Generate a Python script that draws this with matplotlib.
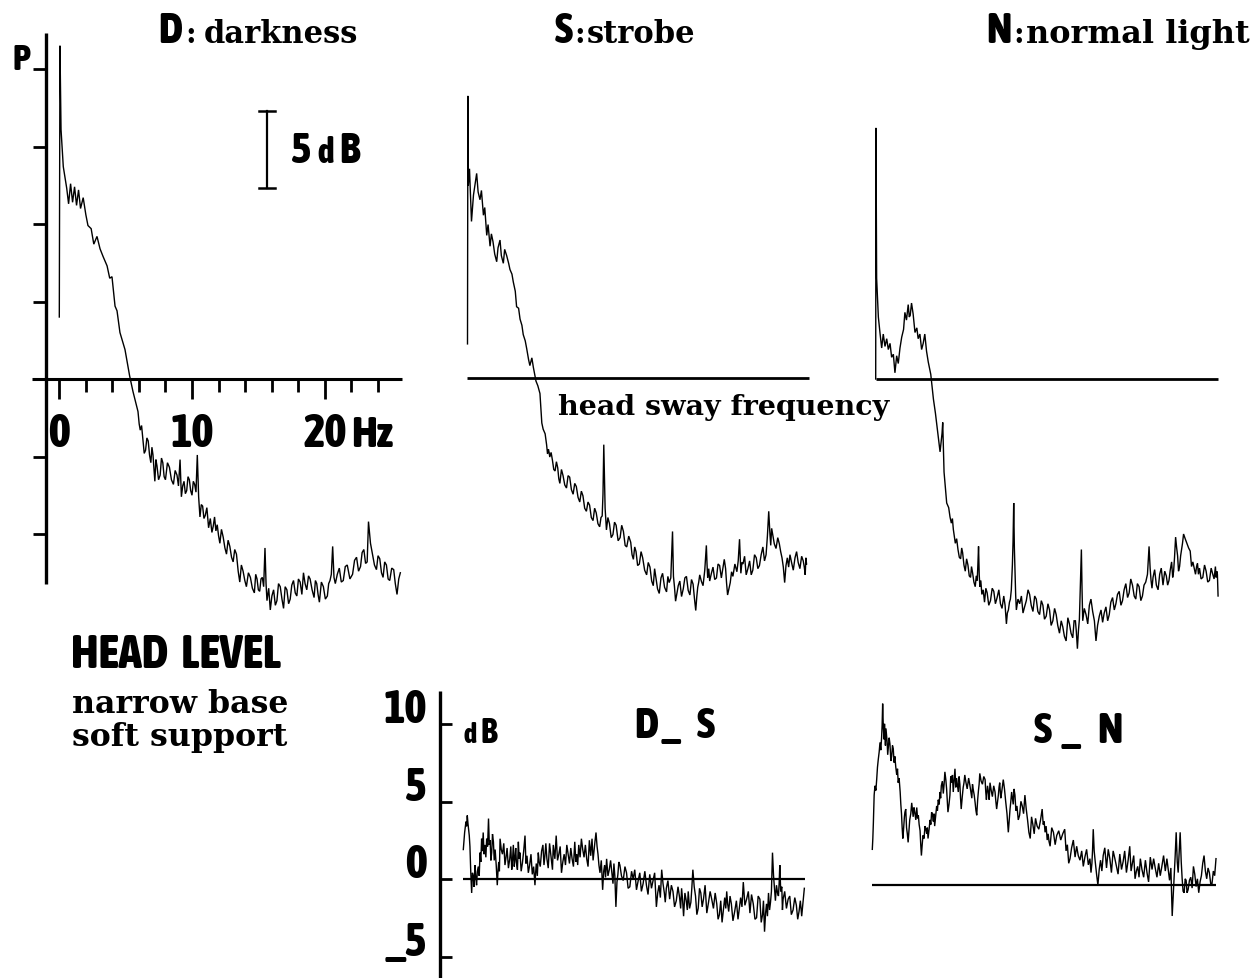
import os
import matplotlib
matplotlib.use('Agg')
import matplotlib.pyplot as plt
import matplotlib.font_manager as fm
from matplotlib.font_manager import FontProperties

# ---------------- data (frequency in Hz, power in dB) ----------------
D_trace = [(0.0, 4.0), (0.05, 21.5), (0.13, 16.1), (0.3, 13.7), (0.56, 12.3), (0.7, 11.3), (0.85, 12.6),
           (1.0, 11.4), (1.15, 12.4), (1.3, 11.2), (1.45, 12.2), (1.6, 11.0), (1.8, 11.7), (2.0, 10.6),
           (2.16, 9.9), (2.4, 9.7), (2.6, 8.7), (2.84, 9.2), (3.07, 8.4), (3.3, 7.9), (3.6, 7.3), (3.8, 6.5),
           (3.97, 6.6), (4.2, 4.7), (4.35, 4.4), (4.57, 3.0), (4.95, 1.9), (5.3, 0.2), (5.55, -0.8),
           (5.93, -2.1), (6.02, -2.9), (6.1, -3.3), (6.2, -3.0), (6.3, -3.9), (6.4, -4.8), (6.5, -4.6),
           (6.6, -3.8), (6.7, -4.0), (6.8, -4.9), (6.9, -5.4), (6.98, -4.4), (7.06, -4.9), (7.13, -5.8),
           (7.2, -6.6), (7.28, -5.2), (7.36, -5.6), (7.48, -6.5), (7.6, -6.2), (7.7, -5.1), (7.8, -5.4),
           (7.9, -6.3), (8.0, -6.5), (8.15, -5.4), (8.3, -5.7), (8.45, -6.5), (8.6, -6.8), (8.73, -5.9),
           (8.87, -6.2), (8.98, -6.9), (9.1, -5.2), (9.15, -6.5), (9.2, -7.6), (9.3, -6.9), (9.4, -6.6),
           (9.5, -7.4), (9.6, -7.2), (9.7, -6.3), (9.8, -6.5), (9.9, -7.2), (10.0, -7.5), (10.1, -6.6),
           (10.2, -6.8), (10.3, -7.3), (10.4, -4.9), (10.5, -7.6), (10.6, -8.9), (10.7, -8.1), (10.8, -8.2),
           (10.9, -9.0), (11.0, -8.8), (11.12, -8.3), (11.25, -9.6), (11.38, -9.0), (11.5, -9.9),
           (11.6, -9.5), (11.7, -8.9), (11.8, -9.8), (11.9, -9.4), (12.0, -10.1), (12.1, -10.6),
           (12.22, -9.7), (12.35, -10.2), (12.48, -10.9), (12.6, -11.3), (12.72, -10.4), (12.85, -10.8),
           (12.98, -11.5), (13.1, -11.8), (13.22, -11.0), (13.35, -11.3), (13.48, -12.4), (13.6, -13.1),
           (13.72, -12.0), (13.85, -12.4), (13.98, -13.0), (14.1, -13.4), (14.25, -12.5), (14.4, -12.8),
           (14.55, -13.5), (14.7, -13.8), (14.8, -12.6), (14.9, -12.9), (15.0, -13.6), (15.1, -13.7),
           (15.2, -12.9), (15.3, -12.8), (15.4, -13.4), (15.5, -10.9), (15.58, -13.2), (15.65, -14.3),
           (15.78, -13.5), (15.9, -14.9), (16.02, -14.0), (16.15, -13.6), (16.28, -14.6), (16.4, -14.3),
           (16.52, -13.2), (16.65, -13.4), (16.78, -14.2), (16.9, -14.8), (17.02, -13.4), (17.15, -13.6),
           (17.28, -14.5), (17.4, -14.2), (17.52, -13.3), (17.65, -13.0), (17.78, -13.8), (17.9, -14.0),
           (18.02, -12.9), (18.15, -13.1), (18.28, -13.9), (18.4, -12.5), (18.52, -13.2), (18.65, -13.6),
           (18.78, -12.7), (18.9, -12.9), (19.05, -13.6), (19.2, -14.1), (19.3, -13.0), (19.4, -13.2),
           (19.5, -13.9), (19.6, -14.4), (19.75, -13.1), (19.9, -13.4), (20.05, -14.2), (20.2, -14.0),
           (20.3, -13.2), (20.4, -13.0), (20.5, -12.6), (20.6, -10.8), (20.7, -12.8), (20.8, -13.2),
           (20.95, -12.6), (21.1, -12.2), (21.25, -13.1), (21.4, -13.0), (21.55, -12.1), (21.7, -12.0),
           (21.9, -12.9), (22.1, -12.6), (22.25, -11.7), (22.4, -11.5), (22.55, -12.4), (22.7, -12.1),
           (22.82, -11.2), (22.95, -11.0), (23.08, -11.9), (23.2, -11.8), (23.25, -10.5), (23.3, -9.2),
           (23.45, -10.6), (23.6, -11.3), (23.75, -12.0), (23.9, -12.3), (24.02, -11.4), (24.15, -11.6),
           (24.28, -12.5), (24.4, -12.8), (24.52, -11.8), (24.65, -12.0), (24.78, -12.9), (24.9, -13.0),
           (25.05, -12.2), (25.2, -12.3), (25.32, -13.2), (25.45, -13.9), (25.58, -12.9), (25.7, -12.5)]

S_trace = [(0.0, 2.2), (0.03, 18.2), (0.06, 12.4), (0.15, 13.5), (0.3, 10.1), (0.45, 11.8), (0.69, 13.2),
           (0.8, 12.0), (0.94, 11.5), (1.05, 12.1), (1.2, 10.5), (1.3, 11.0), (1.45, 9.2), (1.55, 9.9),
           (1.7, 8.5), (1.8, 9.3), (1.92, 8.8), (2.05, 8.0), (2.2, 7.5), (2.3, 8.4), (2.45, 8.9), (2.55, 7.9),
           (2.7, 7.4), (2.8, 8.3), (2.95, 7.9), (3.1, 7.4), (3.2, 7.0), (3.35, 6.7), (3.45, 6.2), (3.6, 5.6),
           (3.7, 4.6), (3.85, 4.5), (3.96, 3.8), (4.1, 3.4), (4.2, 2.8), (4.35, 2.4), (4.46, 1.9), (4.6, 1.2),
           (4.7, 0.8), (4.85, 1.3), (4.96, 0.7), (5.16, -0.2), (5.3, -0.5), (5.46, -1.0), (5.6, -2.9),
           (5.7, -3.3), (5.85, -3.6), (5.96, -4.3), (6.03, -4.9), (6.1, -4.6), (6.15, -4.8), (6.2, -5.1),
           (6.3, -4.8), (6.4, -5.3), (6.5, -5.9), (6.6, -6.0), (6.7, -5.4), (6.8, -5.8), (6.88, -6.5),
           (6.96, -6.8), (7.08, -5.9), (7.2, -6.3), (7.33, -6.9), (7.46, -7.1), (7.58, -6.3), (7.7, -6.4),
           (7.83, -7.2), (7.96, -7.5), (8.08, -6.8), (8.2, -7.0), (8.33, -7.7), (8.46, -8.0), (8.58, -7.3),
           (8.7, -7.6), (8.83, -8.4), (8.96, -8.6), (9.08, -8.0), (9.2, -8.2), (9.33, -9.0), (9.46, -9.2),
           (9.58, -8.4), (9.7, -8.7), (9.83, -9.4), (9.96, -9.6), (10.06, -9.0), (10.15, -8.9),
           (10.21, -7.5), (10.27, -4.3), (10.37, -8.4), (10.47, -9.8), (10.58, -9.0), (10.7, -9.4),
           (10.83, -10.3), (10.96, -10.1), (11.08, -9.3), (11.2, -9.5), (11.35, -10.5), (11.5, -10.3),
           (11.62, -9.5), (11.75, -9.9), (11.88, -10.8), (12.0, -10.9), (12.15, -10.2), (12.3, -10.6),
           (12.4, -11.4), (12.5, -11.7), (12.6, -10.9), (12.7, -11.2), (12.82, -12.1), (12.95, -12.0),
           (13.08, -11.2), (13.2, -11.6), (13.35, -12.4), (13.5, -12.7), (13.62, -11.9), (13.75, -12.2),
           (13.88, -13.1), (14.0, -13.4), (14.1, -12.3), (14.2, -12.9), (14.32, -13.6), (14.45, -13.9),
           (14.58, -12.9), (14.7, -12.6), (14.85, -13.5), (15.0, -13.8), (15.1, -12.8), (15.2, -13.2),
           (15.32, -12.9), (15.45, -9.9), (15.52, -12.8), (15.6, -13.5), (15.68, -14.4), (15.76, -14.0),
           (15.88, -13.4), (16.0, -13.1), (16.13, -14.1), (16.26, -13.6), (16.38, -12.9), (16.5, -12.8),
           (16.63, -13.7), (16.76, -14.0), (16.88, -13.0), (17.0, -13.3), (17.1, -14.2), (17.2, -15.0),
           (17.28, -14.1), (17.35, -13.5), (17.42, -13.2), (17.5, -12.7), (17.62, -13.1), (17.75, -13.4),
           (17.88, -12.4), (18.0, -10.8), (18.05, -12.0), (18.1, -12.9), (18.18, -12.3), (18.25, -13.1),
           (18.38, -12.6), (18.5, -12.2), (18.63, -13.0), (18.76, -12.9), (18.88, -12.0), (19.0, -12.1),
           (19.13, -12.9), (19.26, -12.2), (19.35, -11.7), (19.45, -12.3), (19.52, -13.2), (19.6, -14.0),
           (19.7, -13.6), (19.8, -13.2), (19.9, -12.5), (20.0, -12.8), (20.15, -12.0), (20.3, -12.5),
           (20.4, -11.8), (20.5, -10.4), (20.55, -11.6), (20.6, -12.6), (20.68, -11.9), (20.76, -12.0),
           (20.88, -11.5), (21.0, -12.7), (21.13, -12.3), (21.26, -11.8), (21.38, -12.7), (21.5, -12.4),
           (21.63, -11.4), (21.76, -11.6), (21.88, -12.3), (22.0, -12.1), (22.13, -11.4), (22.26, -10.9),
           (22.38, -11.8), (22.5, -11.4), (22.6, -10.2), (22.7, -8.6), (22.78, -9.9), (22.85, -10.8),
           (22.92, -9.7), (23.0, -10.1), (23.12, -10.7), (23.25, -11.0), (23.38, -10.3), (23.5, -10.7),
           (23.6, -11.2), (23.7, -11.6), (23.8, -12.2), (23.9, -13.2), (24.0, -12.1), (24.1, -11.6),
           (24.2, -12.2), (24.3, -11.4), (24.42, -11.9), (24.55, -12.4), (24.68, -11.6), (24.8, -11.2),
           (24.92, -11.9), (25.05, -12.3), (25.18, -11.5), (25.3, -11.8), (25.38, -12.2), (25.45, -12.7),
           (25.5, -11.6), (25.55, -12.0)]

N_trace = [(0.0, 0.0), (0.02, 16.2), (0.07, 6.5), (0.2, 4.0), (0.32, 3.0), (0.45, 2.0), (0.57, 2.9),
           (0.7, 2.1), (0.83, 2.6), (0.95, 1.9), (1.08, 2.3), (1.2, 1.4), (1.33, 1.6), (1.45, 0.4),
           (1.58, 1.5), (1.7, 1.0), (1.83, 2.0), (1.96, 2.7), (2.1, 3.2), (2.2, 4.3), (2.32, 3.8), (2.45, 4.8),
           (2.53, 4.0), (2.6, 4.1), (2.7, 4.9), (2.82, 4.2), (2.96, 3.0), (3.1, 3.3), (3.2, 2.6), (3.33, 2.9),
           (3.46, 1.9), (3.58, 2.3), (3.7, 2.9), (3.83, 1.8), (3.96, 1.1), (4.15, 0.3), (4.35, -1.3),
           (4.5, -2.2), (4.7, -3.6), (4.85, -4.7), (5.0, -3.5), (5.05, -2.8), (5.15, -6.0), (5.35, -8.0),
           (5.5, -8.3), (5.6, -8.9), (5.7, -9.3), (5.78, -9.0), (5.85, -9.7), (5.92, -10.1), (6.0, -10.6),
           (6.1, -10.3), (6.2, -11.0), (6.3, -11.5), (6.4, -11.6), (6.48, -10.9), (6.55, -11.2),
           (6.65, -12.0), (6.75, -12.4), (6.85, -11.6), (6.95, -12.0), (7.05, -12.7), (7.15, -12.8),
           (7.22, -12.1), (7.3, -12.5), (7.4, -13.1), (7.5, -13.4), (7.58, -12.7), (7.65, -13.0),
           (7.7, -12.0), (7.75, -10.8), (7.8, -12.6), (7.85, -13.4), (7.92, -13.0), (8.0, -13.9),
           (8.1, -13.6), (8.2, -14.4), (8.3, -13.5), (8.4, -13.8), (8.52, -14.6), (8.65, -14.3),
           (8.78, -13.5), (8.9, -13.7), (9.02, -14.5), (9.15, -14.1), (9.28, -13.6), (9.4, -14.5),
           (9.52, -14.8), (9.65, -14.0), (9.75, -14.6), (9.85, -15.8), (9.92, -15.1), (10.0, -14.9),
           (10.08, -14.4), (10.15, -14.2), (10.22, -13.6), (10.3, -12.0), (10.35, -10.5), (10.4, -8.0),
           (10.45, -10.9), (10.5, -12.5), (10.55, -14.0), (10.6, -14.9), (10.72, -14.2), (10.85, -14.5),
           (10.98, -14.0), (11.1, -15.1), (11.22, -14.7), (11.35, -14.3), (11.48, -13.6), (11.6, -13.9),
           (11.72, -14.6), (11.85, -15.0), (11.98, -14.0), (12.1, -14.2), (12.22, -15.0), (12.35, -15.2),
           (12.48, -14.3), (12.6, -14.6), (12.72, -15.5), (12.85, -15.3), (12.98, -14.5), (13.1, -14.9),
           (13.22, -15.9), (13.35, -15.6), (13.48, -14.8), (13.6, -15.2), (13.72, -15.9), (13.85, -16.4),
           (13.98, -15.6), (14.1, -16.0), (14.22, -16.6), (14.35, -16.9), (14.48, -15.4), (14.6, -15.8),
           (14.72, -16.4), (14.85, -16.7), (14.95, -15.6), (15.05, -15.6), (15.12, -16.3), (15.2, -17.4),
           (15.28, -16.2), (15.35, -15.5), (15.42, -13.5), (15.5, -11.0), (15.55, -13.6), (15.6, -15.6),
           (15.72, -14.8), (15.85, -15.2), (15.98, -15.8), (16.1, -14.6), (16.22, -14.2), (16.35, -15.0),
           (16.48, -15.6), (16.6, -16.9), (16.72, -15.9), (16.85, -15.3), (16.98, -14.9), (17.1, -15.7),
           (17.22, -15.1), (17.35, -14.7), (17.48, -15.6), (17.6, -15.2), (17.72, -14.4), (17.85, -14.1),
           (17.98, -14.9), (18.1, -14.5), (18.22, -13.9), (18.35, -13.7), (18.48, -14.6), (18.6, -14.3),
           (18.72, -13.6), (18.85, -13.2), (18.98, -14.1), (19.1, -13.8), (19.22, -12.9), (19.35, -13.3),
           (19.48, -14.0), (19.6, -14.2), (19.72, -13.2), (19.85, -13.4), (19.98, -14.3), (20.1, -14.0),
           (20.22, -13.3), (20.35, -13.1), (20.48, -12.6), (20.6, -10.8), (20.68, -12.2), (20.75, -13.0),
           (20.82, -13.5), (20.9, -12.8), (21.02, -12.3), (21.15, -13.3), (21.28, -13.6), (21.4, -12.6),
           (21.52, -12.2), (21.65, -13.3), (21.78, -12.4), (21.9, -12.7), (22.0, -13.3), (22.1, -13.0),
           (22.2, -12.3), (22.3, -11.8), (22.38, -12.8), (22.45, -12.4), (22.52, -11.5), (22.6, -10.2),
           (22.68, -10.9), (22.75, -11.4), (22.82, -12.4), (22.9, -12.1), (22.98, -11.4), (23.05, -11.0),
           (23.12, -10.6), (23.2, -10.0), (23.32, -10.3), (23.45, -10.6), (23.58, -10.9), (23.7, -11.1),
           (23.8, -12.1), (23.9, -11.8), (24.0, -12.2), (24.1, -12.6), (24.18, -12.1), (24.25, -11.9),
           (24.32, -12.6), (24.4, -12.2), (24.52, -12.9), (24.65, -12.8), (24.78, -12.0), (24.9, -12.4),
           (25.02, -13.1), (25.15, -13.0), (25.28, -12.2), (25.4, -12.6), (25.5, -12.9), (25.6, -12.1),
           (25.65, -12.8), (25.7, -12.4), (25.75, -12.6), (25.8, -14.0)]

DS_trace = [(0.0, 1.9), (0.1, 3.0), (0.2, 3.7), (0.25, 3.4), (0.3, 4.1), (0.35, 3.6), (0.4, 3.2), (0.45, 2.8),
            (0.5, 2.1), (0.56, 0.5), (0.63, -0.9), (0.69, 0.4), (0.75, 0.2), (0.81, -0.5), (0.88, 0.9),
            (0.94, 0.1), (1.0, -0.4), (1.06, 0.5), (1.13, 0.8), (1.2, 0.2), (1.26, 1.7), (1.32, 1.1),
            (1.38, 2.6), (1.44, 1.8), (1.5, 3.0), (1.56, 1.6), (1.63, 2.2), (1.7, 1.4), (1.76, 2.6),
            (1.83, 2.1), (1.9, 3.9), (1.96, 2.2), (2.02, 2.5), (2.08, 1.2), (2.14, 1.7), (2.2, 2.9),
            (2.27, 2.4), (2.33, 1.2), (2.4, 1.9), (2.48, 0.9), (2.56, -0.4), (2.62, 0.6), (2.67, 1.1),
            (2.72, 0.5), (2.77, 2.6), (2.86, 1.9), (2.95, 1.6), (3.05, 2.3), (3.14, 0.9), (3.22, 1.4),
            (3.3, 2.0), (3.4, 0.7), (3.5, 1.3), (3.58, 2.1), (3.65, 0.6), (3.71, 1.2), (3.77, 2.2),
            (3.84, 0.8), (3.9, 1.4), (3.95, 2.0), (4.0, 1.1), (4.08, 0.6), (4.15, 2.4), (4.21, 1.3),
            (4.27, 1.7), (4.36, 0.5), (4.45, 1.0), (4.55, 1.8), (4.65, 2.8), (4.72, 1.0), (4.8, 1.5),
            (4.9, 0.4), (5.0, 0.9), (5.1, 1.6), (5.2, 0.3), (5.3, 0.8), (5.4, -0.4), (5.45, 0.4), (5.5, 1.0),
            (5.58, 0.2), (5.65, 1.7), (5.72, 1.1), (5.8, 0.8), (5.9, 1.8), (6.0, 2.2), (6.08, 0.9),
            (6.15, 1.5), (6.22, 2.3), (6.3, 1.3), (6.4, 0.7), (6.5, 2.3), (6.58, 1.7), (6.65, 1.2),
            (6.72, 0.6), (6.78, 2.2), (6.9, 1.3), (7.0, 2.8), (7.1, 1.2), (7.2, 1.6), (7.3, 2.1), (7.4, 0.4),
            (7.5, 1.1), (7.6, 1.6), (7.7, 0.9), (7.8, 2.2), (7.9, 1.6), (8.0, 1.0), (8.1, 2.0), (8.2, 1.3),
            (8.3, 0.8), (8.4, 2.4), (8.48, 1.1), (8.55, 1.6), (8.62, 0.9), (8.7, 2.2), (8.8, 1.4),
            (8.9, 2.6), (9.0, 1.9), (9.1, 1.4), (9.2, 2.2), (9.3, 1.3), (9.4, 0.8), (9.5, 2.5), (9.6, 1.5),
            (9.7, 2.6), (9.78, 1.2), (9.85, 1.8), (9.92, 2.4), (10.0, 3.0), (10.08, 2.1), (10.15, 1.6),
            (10.22, 0.9), (10.3, 0.4), (10.4, 1.2), (10.5, -0.7), (10.58, 0.5), (10.65, 0.9), (10.72, 0.1),
            (10.8, 1.3), (10.9, 0.2), (11.0, 0.6), (11.1, 1.2), (11.2, 0.4), (11.28, -0.3), (11.35, 1.0),
            (11.42, 0.2), (11.5, -1.8), (11.58, -0.2), (11.65, 0.3), (11.72, 1.1), (11.8, 0.9),
            (11.92, 0.2), (12.05, -0.1), (12.18, 0.8), (12.3, 0.4), (12.42, -0.6), (12.55, -0.5),
            (12.68, 0.5), (12.8, 0.0), (12.92, 0.6), (13.05, -0.7), (13.18, -0.1), (13.3, 0.4),
            (13.42, -0.8), (13.55, -0.3), (13.68, 0.5), (13.8, -0.4), (13.92, -1.0), (14.05, 0.3),
            (14.18, -0.6), (14.3, -0.1), (14.42, 0.4), (14.55, -1.8), (14.65, -0.9), (14.75, -0.4),
            (14.85, -1.2), (14.95, 0.6), (15.05, -0.3), (15.15, -0.9), (15.22, -1.5), (15.3, -0.6),
            (15.42, -0.1), (15.55, -1.3), (15.68, -0.4), (15.8, -0.8), (15.92, -1.8), (16.05, -1.4),
            (16.18, -0.5), (16.3, -1.2), (16.38, -1.9), (16.45, -0.6), (16.52, -1.3), (16.6, -2.4),
            (16.7, -0.9), (16.8, -1.4), (16.88, -2.0), (16.95, -0.8), (17.05, -1.9), (17.15, -1.5),
            (17.22, -0.6), (17.3, 0.6), (17.4, -0.5), (17.5, -1.1), (17.6, -2.3), (17.7, -1.9),
            (17.8, -0.6), (17.9, -0.9), (18.0, -1.8), (18.1, -1.3), (18.22, -0.4), (18.35, -2.2),
            (18.48, -1.5), (18.6, -0.8), (18.72, -1.3), (18.85, -1.9), (18.98, -0.9), (19.1, -1.6),
            (19.2, -2.6), (19.3, -2.3), (19.4, -1.4), (19.5, -2.8), (19.6, -2.0), (19.7, -1.2),
            (19.78, -1.9), (19.85, -0.8), (19.92, -1.6), (20.0, -2.1), (20.1, -1.1), (20.2, -1.6),
            (20.32, -2.7), (20.45, -2.1), (20.58, -1.4), (20.7, -2.6), (20.8, -1.9), (20.9, -1.2),
            (21.0, -1.8), (21.1, -0.2), (21.22, -1.7), (21.35, -1.3), (21.48, -0.8), (21.6, -2.2),
            (21.72, -1.0), (21.85, -1.6), (21.98, -2.6), (22.1, -2.5), (22.22, -1.1), (22.35, -1.3),
            (22.45, -2.8), (22.55, -2.3), (22.62, -1.4), (22.7, -3.4), (22.78, -2.2), (22.85, -1.6),
            (22.92, -2.4), (23.0, -0.9), (23.08, -2.0), (23.15, -1.5), (23.22, -0.8), (23.3, 1.7),
            (23.38, 0.2), (23.45, -0.6), (23.52, -1.4), (23.6, -0.4), (23.68, -0.9), (23.75, -1.1),
            (23.8, -0.3), (23.85, 0.9), (23.92, -0.8), (24.0, -0.5), (24.05, -2.0), (24.1, -1.3),
            (24.22, -0.8), (24.35, -1.9), (24.48, -1.3), (24.6, -1.1), (24.72, -2.3), (24.85, -2.0),
            (24.98, -1.2), (25.1, -1.7), (25.2, -2.6), (25.3, -2.1), (25.4, -1.4), (25.5, -2.4),
            (25.6, -1.5), (25.7, -0.6)]

SN_trace = [(0.0, 2.3), (0.04, 3.0), (0.08, 4.0), (0.14, 5.8), (0.2, 6.4), (0.27, 6.1), (0.33, 6.8),
            (0.39, 7.6), (0.45, 8.1), (0.52, 8.6), (0.58, 9.2), (0.64, 8.7), (0.7, 9.5), (0.74, 10.3),
            (0.78, 11.7), (0.83, 10.2), (0.88, 9.4), (0.92, 10.4), (0.95, 9.8), (0.99, 9.0), (1.03, 10.1),
            (1.08, 9.6), (1.12, 9.2), (1.16, 8.4), (1.2, 8.8), (1.27, 9.5), (1.33, 9.1), (1.4, 8.0),
            (1.46, 8.3), (1.52, 9.0), (1.58, 8.8), (1.64, 7.9), (1.7, 8.3), (1.77, 7.6), (1.84, 7.1),
            (1.9, 7.5), (1.95, 6.6), (2.02, 6.9), (2.1, 6.0), (2.15, 5.2), (2.2, 4.6), (2.25, 3.7),
            (2.3, 3.0), (2.34, 3.4), (2.38, 3.9), (2.42, 4.4), (2.46, 4.7), (2.52, 4.9), (2.58, 3.7),
            (2.64, 3.3), (2.7, 2.75), (2.76, 3.5), (2.82, 4.2), (2.9, 4.6), (2.97, 5.3), (3.02, 4.9),
            (3.08, 4.4), (3.14, 5.0), (3.2, 4.7), (3.28, 4.2), (3.35, 5.0), (3.41, 4.3), (3.47, 4.5),
            (3.53, 3.9), (3.6, 3.5), (3.65, 2.6), (3.7, 1.9), (3.76, 2.6), (3.82, 3.2), (3.9, 3.0),
            (3.97, 3.8), (4.04, 3.6), (4.1, 3.3), (4.15, 3.7), (4.2, 3.0), (4.28, 3.6), (4.35, 4.2),
            (4.41, 3.9), (4.47, 4.7), (4.54, 4.5), (4.6, 4.1), (4.65, 4.6), (4.7, 3.8), (4.78, 4.5),
            (4.85, 5.1), (4.91, 4.8), (4.97, 5.5), (5.04, 5.2), (5.1, 6.0), (5.15, 5.6), (5.2, 6.4),
            (5.28, 6.7), (5.35, 5.9), (5.41, 6.5), (5.47, 7.3), (5.54, 6.8), (5.6, 6.2), (5.65, 5.4),
            (5.7, 4.7), (5.78, 5.2), (5.85, 5.8), (5.91, 7.0), (5.97, 6.6), (6.04, 7.1), (6.1, 6.0),
            (6.17, 6.8), (6.23, 7.5), (6.29, 6.3), (6.35, 6.9), (6.42, 6.4), (6.48, 6.0), (6.54, 7.0),
            (6.6, 6.5), (6.65, 5.6), (6.7, 4.9), (6.78, 5.7), (6.85, 6.3), (6.91, 6.6), (6.97, 7.1),
            (7.06, 6.6), (7.15, 6.2), (7.26, 6.9), (7.36, 6.4), (7.43, 6.0), (7.5, 5.6), (7.55, 6.5),
            (7.6, 6.2), (7.68, 5.8), (7.75, 5.3), (7.81, 4.8), (7.87, 4.5), (7.94, 5.5), (8.0, 6.1),
            (8.05, 6.5), (8.1, 7.2), (8.2, 6.7), (8.3, 6.5), (8.4, 7.0), (8.5, 6.8), (8.55, 6.0), (8.6, 5.5),
            (8.68, 6.4), (8.75, 6.0), (8.81, 5.5), (8.87, 6.6), (8.96, 6.1), (9.05, 5.7), (9.15, 6.4),
            (9.25, 6.0), (9.31, 5.4), (9.37, 4.9), (9.44, 5.4), (9.5, 5.8), (9.55, 6.3), (9.6, 6.6),
            (9.68, 5.6), (9.75, 6.0), (9.81, 6.4), (9.87, 6.8), (9.96, 6.2), (10.05, 5.4), (10.15, 4.6),
            (10.25, 3.4), (10.32, 4.2), (10.38, 4.9), (10.44, 5.4), (10.5, 6.0), (10.56, 5.6), (10.62, 5.2),
            (10.68, 6.2), (10.75, 5.8), (10.82, 4.8), (10.9, 5.1), (11.0, 4.2), (11.1, 4.5), (11.2, 5.4),
            (11.3, 5.1), (11.4, 4.6), (11.5, 5.8), (11.6, 4.9), (11.7, 4.2), (11.8, 3.4), (11.9, 3.0),
            (12.0, 4.4), (12.1, 3.9), (12.2, 3.3), (12.3, 4.3), (12.42, 3.8), (12.55, 3.6), (12.68, 4.2),
            (12.8, 4.9), (12.88, 3.9), (12.95, 4.1), (13.02, 3.4), (13.1, 3.8), (13.18, 2.9), (13.25, 3.3),
            (13.32, 2.8), (13.4, 2.5), (13.52, 3.7), (13.65, 3.4), (13.78, 2.6), (13.9, 3.2), (14.05, 3.5),
            (14.2, 2.9), (14.35, 3.3), (14.5, 3.6), (14.6, 2.2), (14.7, 2.6), (14.8, 1.4), (14.9, 1.7),
            (15.02, 2.4), (15.15, 2.9), (15.28, 1.8), (15.4, 2.5), (15.52, 1.9), (15.65, 1.6), (15.78, 2.2),
            (15.9, 1.2), (16.02, 1.8), (16.15, 2.3), (16.28, 1.3), (16.4, 1.7), (16.48, 0.8), (16.55, 1.4),
            (16.6, 2.3), (16.65, 3.6), (16.72, 2.2), (16.8, 1.5), (16.9, 0.7), (17.0, 0.0), (17.1, 1.0),
            (17.2, 1.6), (17.3, 0.9), (17.4, 1.9), (17.52, 2.4), (17.65, 1.1), (17.78, 2.3), (17.9, 1.7),
            (18.02, 0.8), (18.15, 2.2), (18.28, 1.7), (18.4, 1.2), (18.52, 0.7), (18.65, 2.0), (18.78, 1.0),
            (18.9, 1.5), (19.02, 2.2), (19.15, 0.8), (19.28, 1.6), (19.4, 2.5), (19.5, 0.9), (19.6, 1.4),
            (19.7, 1.9), (19.8, 0.4), (19.9, 0.9), (20.0, 1.2), (20.1, 0.5), (20.2, 1.7), (20.32, 1.0),
            (20.45, 0.5), (20.58, 1.6), (20.7, 0.8), (20.82, 0.2), (20.95, 1.8), (21.08, 1.0), (21.2, 1.7),
            (21.32, 1.1), (21.45, 0.5), (21.58, 1.4), (21.7, 0.6), (21.82, 1.2), (21.95, 1.9), (22.08, 0.9),
            (22.2, 1.7), (22.3, 1.0), (22.4, 0.3), (22.5, 1.1), (22.6, -2.0), (22.68, -0.6), (22.75, 0.6),
            (22.82, 1.8), (22.9, 3.4), (22.98, 1.5), (23.05, 0.8), (23.12, 2.0), (23.2, 3.4), (23.28, 1.5),
            (23.35, 0.4), (23.42, -0.4), (23.5, -0.5), (23.58, 0.4), (23.65, 0.3), (23.72, -0.5),
            (23.8, -0.3), (23.9, 0.3), (24.0, 0.5), (24.1, -0.2), (24.2, 1.2), (24.3, 0.7), (24.4, -0.1),
            (24.5, 0.4), (24.6, -0.5), (24.7, 0.2), (24.8, 0.6), (24.9, 1.4), (25.0, 1.9), (25.1, 0.9),
            (25.2, 0.4), (25.3, 1.1), (25.4, 0.8), (25.5, 0.1), (25.6, 0.1), (25.7, 0.9), (25.8, 0.6),
            (25.9, 1.7)]

D_yticks = [20, 15, 10, 5, 0, -5, -10]
D_xticks = [0, 2, 4, 6, 8, 10, 12, 14, 16, 18, 20, 22, 24]
D_xticklabels = {0: '0', 10: '10', 20: '20'}
diff_yticks = [10, 5, 0, -5]
diff_yticklabels = ['10', '5', '0', '_5']
scale_bar_db = 5
titles = ['D', 'S', 'N']
subtitles = ['darkness', 'strobe', 'normal light']

# ---------------- fonts ----------------
_STRETCH_RANK = {'ultra-condensed': 0, 'extra-condensed': 1, 'condensed': 2, 'semi-condensed': 3}


def _weight(f):
    w = f.weight
    if isinstance(w, (int, float)):
        return int(w)
    return {'bold': 700, 'heavy': 800, 'black': 900, 'extra bold': 800, 'semibold': 600,
            'demibold': 600, 'demi': 600}.get(str(w).lower(), 400)


def find_condensed_bold():
    best = None
    for f in fm.fontManager.ttflist:
        fn = os.path.basename(f.fname).lower()
        nm = f.name.lower()
        if '[' in fn or f.style != 'normal':
            continue
        if 'mono' in nm or 'serif' in nm:
            continue
        w = _weight(f)
        if w < 600:
            continue
        rank = _STRETCH_RANK.get(str(f.stretch), None)
        if rank is None:
            if 'extracondensed' in fn or 'extra condensed' in nm:
                rank = 1
            elif 'condensed' in fn or 'narrow' in fn or 'condensed' in nm or 'narrow' in nm:
                rank = 2
        if rank is None:
            continue
        key = (rank, abs(w - 800))
        if best is None or key < best[0]:
            best = (key, f.fname)
    return best[1] if best else None


_cpath = find_condensed_bold()
if _cpath:
    COND = FontProperties(fname=_cpath)
    COND_SCALE = 1.0
else:
    COND = FontProperties(family='DejaVu Sans', weight='bold')
    COND_SCALE = 0.82
SERIF = FontProperties(family='DejaVu Serif', weight='bold')

# ---------------- layout ----------------
W, H = 1257, 979
fig = plt.figure(figsize=(W / 100, H / 100), dpi=100)
fig.patch.set_facecolor('white')
renderer = fig.canvas.get_renderer()

SX = 13.27   # px per Hz
SY = 15.5    # px per dB
K = 'black'


def panel(ox, zy):
    ax = fig.add_axes([0, 0, 1, 1])
    ax.set_xlim(-ox / SX, (W - ox) / SX)
    ax.set_ylim((zy - H) / SY, zy / SY)
    ax.axis('off')
    ax.patch.set_alpha(0)
    return ax


def ftext(x, y, s, fp, size, ha='left'):
    p = fp.copy()
    p.set_size(size * (COND_SCALE if fp is COND else 1.0))
    return fig.text(x / W, 1 - y / H, s, ha=ha, va='baseline', fontproperties=p, color=K)


def trace(ax, pts, lw=1.0):
    xs = [p[0] for p in pts]
    ys = [p[1] for p in pts]
    ax.plot(xs, ys, color=K, lw=lw, solid_joinstyle='miter')


def atext(ax, x, y, s, size, ha):
    p = COND.copy()
    p.set_size(size * COND_SCALE)
    ax.text(x, y, s, ha=ha, va='baseline', fontproperties=p, color=K)


# ----- D panel -----
axD = panel(59.3, 380)
axD.plot([-1.0, -1.0], [22.3, -13.2], color=K, lw=2.4, solid_capstyle='butt')
for v in D_yticks:
    axD.plot([-2.0, -1.0], [v, v], color=K, lw=2.0, solid_capstyle='butt')
axD.plot([-2.06, 25.8], [0, 0], color=K, lw=2.2, solid_capstyle='butt')
for f in D_xticks:
    ln = 1.3 if f in D_xticklabels else 0.84
    axD.plot([f, f], [0, -ln], color=K, lw=2.0, solid_capstyle='butt')
for f, lab in D_xticklabels.items():
    atext(axD, f, -4.32, lab, 33, 'center')
atext(axD, 22.0, -4.32, 'Hz', 32, 'left')
trace(axD, D_trace)
# 5 dB scale bar
sb_x, sb_top = 15.65, 17.3
axD.plot([sb_x, sb_x], [sb_top, sb_top - scale_bar_db], color=K, lw=1.6)
for yy in (sb_top, sb_top - scale_bar_db):
    axD.plot([sb_x - 0.62, sb_x + 0.62], [yy, yy], color=K, lw=1.8)
ftext(291, 163, '5', COND, 31)
ftext(317, 163, 'd', COND, 25)
ftext(339, 163, 'B', COND, 31)
ftext(30, 70, 'P', COND, 26, ha='right')

# ----- S panel -----
axS = panel(467.5, 379)
axS.plot([0, 25.7], [0, 0], color=K, lw=2.0, solid_capstyle='butt')
trace(axS, S_trace)

# ----- N panel -----
axN = panel(875.7, 380)
axN.plot([0, 25.8], [0, 0], color=K, lw=2.0, solid_capstyle='butt')
trace(axN, N_trace)

# titles
ftext(158, 43, titles[0], COND, 31)
ftext(185, 43, ':', SERIF, 21)
ftext(204, 43, subtitles[0], SERIF, 22)
ftext(555, 43, titles[1], COND, 31)
ftext(574, 43, ':', SERIF, 21)
ftext(587, 43, subtitles[1], SERIF, 22)
tn = ftext(1250, 43, subtitles[2], SERIF, 23, ha='right')
left_n = tn.get_window_extent(renderer).x0
ftext(left_n - 13, 43, ':', SERIF, 21)
ftext(left_n - 15, 43, titles[2], COND, 31, ha='right')

ftext(558, 415, 'head sway frequency', SERIF, 20.5)

# ----- side labels -----
ftext(71, 668, 'HEAD  LEVEL', COND, 34)
ftext(72, 713, 'narrow base', SERIF, 22.8)
ftext(72, 746, 'soft support', SERIF, 22.8)

# ----- D - S panel -----
axDS = panel(463.3, 880)
axDS.plot([-1.76, -1.76], [12.1, -7.0], color=K, lw=2.4, solid_capstyle='butt')
for v, lab in zip(diff_yticks, diff_yticklabels):
    axDS.plot([-1.76, -0.85], [v, v], color=K, lw=2.0, solid_capstyle='butt')
    atext(axDS, -2.75, v + 0.1, lab, 33, 'right')
axDS.plot([0, 25.75], [0, 0], color=K, lw=1.6, solid_capstyle='butt')
trace(axDS, DS_trace)
ftext(463, 743, 'd', COND, 20)
ftext(481, 743, 'B', COND, 25)
ftext(634, 738, 'D', COND, 31)
ftext(662, 738, '_', COND, 31)
ftext(697, 738, 'S', COND, 31)

# ----- S - N panel -----
axSN = panel(872.3, 886)
axSN.plot([0, 25.9], [0, 0], color=K, lw=1.6, solid_capstyle='butt')
trace(axSN, SN_trace)
ftext(1034, 743, 'S', COND, 31)
ftext(1062, 743, '_', COND, 31)
ftext(1097, 743, 'N', COND, 31)

fig.savefig('out.png', dpi=100, facecolor='white')
